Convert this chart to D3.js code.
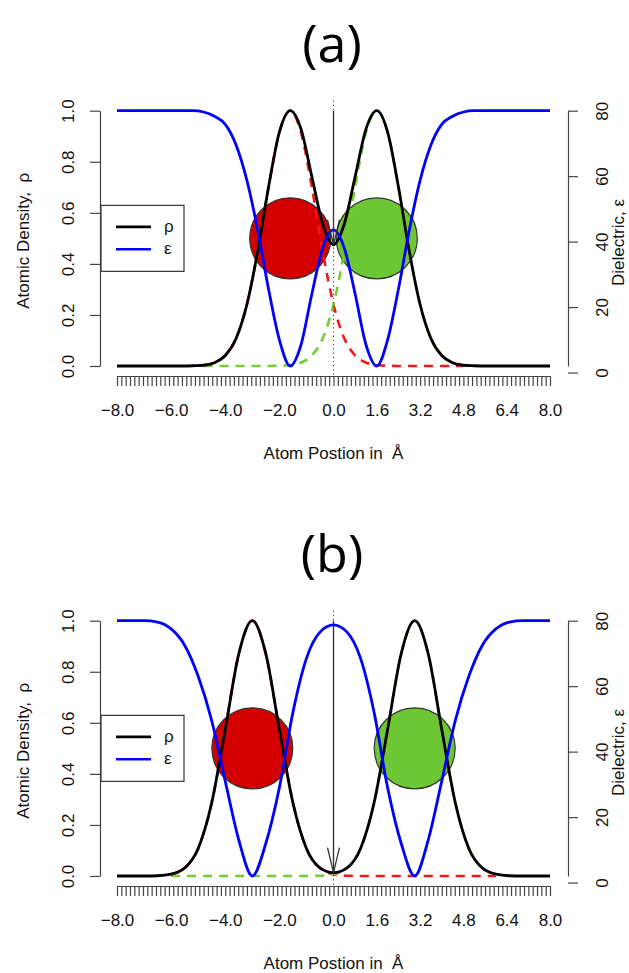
<!DOCTYPE html>
<html>
<head>
<meta charset="utf-8">
<script src="https://cdn.jsdelivr.net/npm/d3@7"></script>
<style>
  body { margin: 0; background: #fff; }
  svg { display: block; font-family: "Liberation Sans", Arial, Helvetica, sans-serif; }
</style>
</head>
<body>
<svg id="chart" width="629" height="973"></svg>
<script>
// ---- DATA ----
const panelTitles = ["(a)", "(b)"];

// panel (a): atoms at +-1.6 A, sampled every 0.4 A
const xA = [-8, -7.6, -7.2, -6.8, -6.4, -6, -5.6, -5.2, -4.8, -4.4, -4, -3.6, -3.2, -2.8, -2.4, -2, -1.6, -1.2, -0.8, -0.4,
            0, 0.4, 0.8, 1.2, 1.6, 2, 2.4, 2.8, 3.2, 3.6, 4, 4.4, 4.8, 5.2, 5.6, 6, 6.4, 6.8, 7.2, 7.6, 8];
const rhoA = [0, 0, 0, 0, 0, 0, 0, 0.001, 0.003, 0.013, 0.041, 0.108, 0.241, 0.449, 0.701, 0.916, 1.000, 0.928, 0.742, 0.557,
              0.475, 0.557, 0.742, 0.928, 1.000, 0.916, 0.701, 0.449, 0.241, 0.108, 0.041, 0.013, 0.003, 0.001, 0, 0, 0, 0, 0, 0, 0];
const epsA = [80, 80, 80, 80, 80, 80, 80, 80, 79.6, 78.3, 75.8, 69.5, 58.7, 43.5, 25.5, 10.0, 2.0, 8.5, 24.0, 38.0,
              43.6, 38.0, 24.0, 8.5, 2.0, 10.0, 25.5, 43.5, 58.7, 69.5, 75.8, 78.3, 79.6, 80, 80, 80, 80, 80, 80, 80, 80];
const redA = [null, null, null, null, null, null, null, null, 0.003, 0.013, 0.041, 0.108, 0.241, 0.449, 0.701, 0.915, 1.000, 0.915, 0.701, 0.449,
              0.241, 0.108, 0.041, 0.013, 0.003, 0.001, 0, 0, 0, 0, 0, 0, 0, null, null, null, null, null, null, null, null];
const greenA = [null, null, null, null, null, null, null, null, 0, 0, 0, 0, 0, 0, 0, 0.001, 0.003, 0.013, 0.041, 0.108,
                0.241, 0.449, 0.701, 0.915, 1.000, 0.915, 0.701, 0.449, 0.241, 0.108, 0.041, 0.013, 0.003, null, null, null, null, null, null, null, null];
const atomsA = [-1.6, 1.6];

// panel (b): atoms at +-3.0 A, sampled every 0.5 A
const xB = [-8, -7.5, -7, -6.5, -6, -5.5, -5, -4.5, -4, -3.5, -3, -2.5, -2, -1.5, -1, -0.5,
            0, 0.5, 1, 1.5, 2, 2.5, 3, 3.5, 4, 4.5, 5, 5.5, 6, 6.5, 7, 7.5, 8];
const rhoB = [0, 0, 0, 0.001, 0.007, 0.031, 0.108, 0.287, 0.574, 0.870, 1.000, 0.870, 0.574, 0.287, 0.108, 0.032,
              0.013, 0.032, 0.108, 0.287, 0.574, 0.870, 1.000, 0.870, 0.574, 0.287, 0.108, 0.031, 0.007, 0.001, 0, 0, 0];
const epsB = [80, 80, 80, 79.6, 77.5, 72.5, 63, 49.5, 31, 13, 2, 12, 29, 52, 68.5, 76.5,
              78.7, 76.5, 68.5, 52, 29, 12, 2, 13, 31, 49.5, 63, 72.5, 77.5, 79.6, 80, 80, 80];
const redB = [null, null, null, null, 0.007, 0.031, 0.108, 0.287, 0.574, 0.870, 1.000, 0.870, 0.574, 0.287, 0.108, 0.031,
              0.007, 0.001, 0, 0, 0, 0, 0, 0, 0, 0, 0, 0, 0, null, null, null, null];
const greenB = [null, null, null, null, 0, 0, 0, 0, 0, 0, 0, 0, 0, 0, 0, 0.001,
                0.007, 0.031, 0.108, 0.287, 0.574, 0.870, 1.000, 0.870, 0.574, 0.287, 0.108, 0.031, 0.007, null, null, null, null];
const atomsB = [-3, 3];

// axes
const xTickValues = [-8, -6, -4, -2, 0, 1.6, 3.2, 4.8, 6.4, 8];
const xTickLabels = ["\u22128.0", "\u22126.0", "\u22124.0", "\u22122.0", "0.0", "1.6", "3.2", "4.8", "6.4", "8.0"];
const rhoTicks = [0, 0.2, 0.4, 0.6, 0.8, 1.0];
const epsTicks = [0, 20, 40, 60, 80];
const legendLabels = ["\u03c1", "\u03b5"];
const legendColors = ["#000", "#0000ff"];
const atomColors = ["#d40000", "#6dc634"];

const panels = [
    { x: xA, rho: rhoA, eps: epsA, red: redA, green: greenA, atoms: atomsA },
    { x: xB, rho: rhoB, eps: epsB, red: redB, green: greenB, atoms: atomsB }
];

// ---- LAYOUT ----
const panelOffset = 510;
const svg = d3.select("svg#chart");

const xScale = d3.scaleLinear().domain([-8, 8]).range([117, 550]);
const minorTicks = d3.range(0, 101).map(i => -8 + i * 0.16);

function drawPanel(p, k) {
    const off = k * panelOffset;
    const yRho = d3.scaleLinear().domain([0, 1]).range([366 + off, 110.7 + off]);
    const yEps = d3.scaleLinear().domain([2, 80]).range([366 + off, 110.7 + off]);
    const g = svg.append("g");

    // title
    g.append("text")
        .attr("x", 332).attr("y", 61.7 + off)
        .attr("text-anchor", "middle")
        .style("font-family", "'Open Sans', 'Noto Sans', sans-serif")
        .style("font-size", "52px")
        .text(panelTitles[k]);

    // ATOMS
    g.selectAll("circle.atom")
        .data(p.atoms)
        .join("circle")
        .attr("class", "atom")
        .attr("cx", d => xScale(d))
        .attr("cy", yRho(0.5))
        .attr("r", 40.5)
        .attr("fill", (d, i) => atomColors[i])
        .attr("stroke", "#333")
        .attr("stroke-width", 1.2);

    // CURVES
    const rhoLine = d3.line()
        .defined(d => d[1] !== null)
        .x(d => xScale(d[0]))
        .y(d => yRho(d[1]))
        .curve(d3.curveMonotoneX);
    const epsLine = d3.line()
        .x(d => xScale(d[0]))
        .y(d => yEps(d[1]))
        .curve(d3.curveMonotoneX);

    const pairs = arr => p.x.map((v, i) => [v, arr[i]]);

    g.append("path").datum(pairs(p.red)).attr("d", rhoLine)
        .attr("fill", "none").attr("stroke", "#f01818").attr("stroke-width", 2.6)
        .attr("stroke-dasharray", "9,7");
    g.append("path").datum(pairs(p.green)).attr("d", rhoLine)
        .attr("fill", "none").attr("stroke", "#72cc36").attr("stroke-width", 2.6)
        .attr("stroke-dasharray", "9,7");
    g.append("path").datum(pairs(p.rho)).attr("d", rhoLine)
        .attr("fill", "none").attr("stroke", "#000").attr("stroke-width", 2.8);
    g.append("path").datum(pairs(p.eps)).attr("d", epsLine)
        .attr("fill", "none").attr("stroke", "#0000ff").attr("stroke-width", 2.8);

    // dotted line at 0 and arrow to the density at the midpoint
    g.append("line")
        .attr("x1", xScale(0)).attr("x2", xScale(0))
        .attr("y1", yRho(1.04)).attr("y2", yRho(-0.04))
        .attr("stroke", "#444").attr("stroke-width", 1.1)
        .attr("stroke-dasharray", "1.2,3");
    const tip = yRho(p.rho[p.x.indexOf(0)]);
    g.append("line")
        .attr("x1", xScale(0)).attr("x2", xScale(0))
        .attr("y1", yRho(1)).attr("y2", tip)
        .attr("stroke", "#333").attr("stroke-width", 1.3);
    g.append("path")
        .attr("d", `M${xScale(0) - 6},${tip - 25}L${xScale(0)},${tip}L${xScale(0) + 6},${tip - 25}`)
        .attr("fill", "none").attr("stroke", "#333").attr("stroke-width", 1.3);

    // AXES
    const leftAxis = g.append("g")
        .attr("transform", "translate(100,0)")
        .call(d3.axisLeft(yRho).tickValues(rhoTicks).tickFormat(d3.format(".1f")).tickSize(10).tickSizeOuter(0));
    leftAxis.selectAll("text")
        .attr("x", null).attr("dy", "0.35em")
        .attr("text-anchor", "middle")
        .attr("transform", "translate(-32,0) rotate(-90)");

    const rightAxis = g.append("g")
        .attr("transform", "translate(568,0)")
        .call(d3.axisRight(yEps).tickValues(epsTicks).tickSize(10).tickSizeOuter(0));
    rightAxis.selectAll("text")
        .attr("x", null).attr("dy", "0.35em")
        .attr("text-anchor", "middle")
        .attr("transform", "translate(34.5,0) rotate(-90)");

    // comb of minor ticks along the bottom
    g.append("g")
        .attr("transform", `translate(0,${376 + off})`)
        .call(d3.axisBottom(xScale).tickValues(minorTicks).tickFormat("").tickSize(10).tickSizeOuter(0));

    const bottomLabels = g.append("g")
        .attr("transform", `translate(0,${376 + off})`)
        .call(d3.axisBottom(xScale).tickValues(xTickValues)
            .tickFormat((d, i) => xTickLabels[i]).tickSize(0));
    bottomLabels.select(".domain").remove();
    bottomLabels.selectAll("text").attr("y", 34).attr("dy", "0.35em");

    [leftAxis, rightAxis, bottomLabels].forEach(a => {
        a.attr("font-family", null).attr("font-size", null);
        a.selectAll("text").style("font-size", "17px").attr("fill", "#111");
    });
    g.selectAll(".domain, .tick line").attr("stroke", "#444").attr("stroke-width", 1.2);

    // axis titles
    g.append("text")
        .attr("x", 333.5).attr("y", 459.3 + off)
        .attr("text-anchor", "middle")
        .style("font-size", "17px").attr("fill", "#111")
        .text("Atom Postion in\u00a0\u00a0\u00c5");
    g.append("text")
        .attr("transform", `translate(29,${240.8 + off}) rotate(-90)`)
        .attr("text-anchor", "middle")
        .style("font-size", "17px").attr("fill", "#111")
        .text("Atomic Density,\u00a0 \u03c1");
    g.append("text")
        .attr("transform", `translate(624,${242.5 + off}) rotate(-90)`)
        .attr("text-anchor", "middle")
        .style("font-size", "17px").attr("fill", "#111")
        .text("Dielectric, \u03b5");

    // LEGEND
    const ly = yRho(0.5);
    const legend = g.append("g");
    legend.append("rect")
        .attr("x", 101).attr("y", ly - 33)
        .attr("width", 83).attr("height", 66)
        .attr("fill", "#fff").attr("stroke", "#333").attr("stroke-width", 1.2);
    const rows = legend.selectAll("g.row")
        .data(legendLabels)
        .join("g")
        .attr("class", "row")
        .attr("transform", (d, i) => `translate(0,${ly - 11.5 + i * 22.4})`);
    rows.append("line")
        .attr("x1", 116).attr("x2", 151)
        .attr("stroke", (d, i) => legendColors[i])
        .attr("stroke-width", 2.6);
    rows.append("text")
        .attr("x", 164).attr("dy", "0.3em")
        .style("font-size", "17px").attr("fill", "#111")
        .text(d => d);
}

panels.forEach(drawPanel);
</script>
</body>
</html>
